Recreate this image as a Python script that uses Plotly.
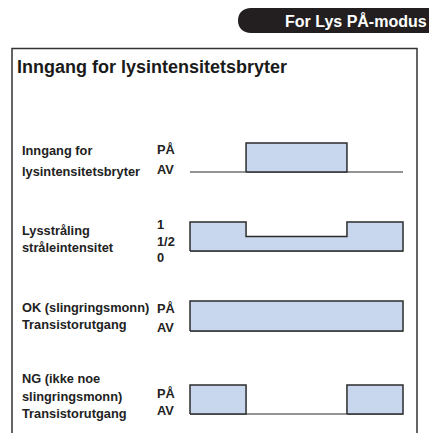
import plotly.graph_objects as go

# ---------------- data ----------------
time_edges = [0, 1, 2.8, 3.8]            # segment boundaries (arbitrary time units)
input_levels = [0, 1, 0]                 # Inngang for lysintensitetsbryter (AV=0, PÅ=1)
intensity_levels = [1, 0.5, 1]           # Lysstråling stråleintensitet (0, 1/2, 1)
ok_levels = [1, 1, 1]                    # OK transistorutgang
ng_levels = [1, 0, 1]                    # NG transistorutgang

row_labels = [
    ["Inngang for", "lysintensitetsbryter"],
    ["Lysstråling", "stråleintensitet"],
    ["OK (slingringsmonn)", "Transistorutgang"],
    ["NG (ikke noe", "slingringsmonn)", "Transistorutgang"],
]
row_ticks = [["PÅ", "AV"], ["1", "1/2", "0"], ["PÅ", "AV"], ["PÅ", "AV"]]
title_text = "Inngang for lysintensitetsbryter"
badge_text = "For Lys PÅ-modus"

# ---------------- layout geometry (pixels) ----------------
W, H = 429, 433
FONT = "Liberation Sans, Arial, Helvetica, sans-serif"
FILL = "#c8d7ee"
EDGE = "#2b2b2b"
BASE = "#707070"

x_left_px, x_right_px = 190, 403
rows_px = [(143, 172), (222, 251), (301, 331), (385, 414)]   # (value 1, value 0)
label_y_px = [[150, 171], [230, 247], [307, 324], [378, 396, 413]]
tick_y_px = [[149, 169], [224, 241, 257], [308, 327], [393, 410]]

levels_all = [input_levels, intensity_levels, ok_levels, ng_levels]

fig = go.Figure()

tpad, vpad = 0.1, 0.15
t0, t1 = time_edges[0], time_edges[-1]
sx = (x_right_px - x_left_px) / (t1 - t0)
xdom = [(x_left_px - tpad * sx) / W, (x_right_px + tpad * sx) / W]

layout_axes = {}
for r, levels in enumerate(levels_all):
    k = r + 2
    xa, ya = f"x{k}", f"y{k}"
    p1, p0 = rows_px[r]
    sy = p0 - p1
    top_px = p1 - vpad * sy
    bot_px = p0 + vpad * sy
    layout_axes[f"xaxis{k}"] = dict(domain=xdom, range=[t0 - tpad, t1 + tpad], visible=False,
                                   anchor=ya, fixedrange=True)
    layout_axes[f"yaxis{k}"] = dict(domain=[1 - bot_px / H, 1 - top_px / H], range=[-vpad, 1 + vpad],
                                   visible=False, anchor=xa, fixedrange=True)

    # baseline at zero
    fig.add_trace(go.Scatter(x=[t0, t1], y=[0, 0], mode="lines", xaxis=xa, yaxis=ya,
                             line=dict(color=BASE, width=1.5), hoverinfo="skip", showlegend=False))
    # filled runs of nonzero levels
    i = 0
    n = len(levels)
    while i < n:
        if levels[i] > 0:
            j = i
            while j + 1 < n and levels[j + 1] > 0:
                j += 1
            xs = [time_edges[i]]
            ys = [0]
            for m in range(i, j + 1):
                xs += [time_edges[m], time_edges[m + 1]]
                ys += [levels[m], levels[m]]
            xs += [time_edges[j + 1], time_edges[i]]
            ys += [0, 0]
            fig.add_trace(go.Scatter(x=xs, y=ys, mode="lines", fill="toself", fillcolor=FILL,
                                     xaxis=xa, yaxis=ya, line=dict(color=EDGE, width=1.5),
                                     hoverinfo="skip", showlegend=False))
            i = j + 1
        else:
            i += 1

annotations = []
# row labels
for r in range(4):
    for txt, yy in zip(row_labels[r], label_y_px[r]):
        annotations.append(dict(x=20, y=yy, xref="x", yref="y", text=f"<b>{txt}</b>",
                                showarrow=False, xanchor="left", yanchor="middle",
                                font=dict(family=FONT, size=12.8, color="#222222")))
    for txt, yy in zip(row_ticks[r], tick_y_px[r]):
        annotations.append(dict(x=155, y=yy, xref="x", yref="y", text=f"<b>{txt}</b>",
                                showarrow=False, xanchor="left", yanchor="middle",
                                font=dict(family=FONT, size=12.8, color="#222222")))

annotations.append(dict(x=15, y=67, xref="x", yref="y", text=f"<b>{title_text}</b>",
                        showarrow=False, xanchor="left", yanchor="middle",
                        font=dict(family=FONT, size=18, color="#1a1a1a")))
annotations.append(dict(x=429, y=21, xref="x", yref="y", text=f"<b>{badge_text}</b>",
                        showarrow=False, xanchor="right", yanchor="middle",
                        font=dict(family=FONT, size=16, color="white")))

shapes = [
    # frame (open at bottom)
    dict(type="path", xref="x", yref="y", path="M 12,440 L 12,48.5 L 417,48.5 L 417,440",
         line=dict(color="#333333", width=1.5), layer="below"),
    # badge
    dict(type="path", xref="x", yref="y",
         path="M 440,8 L 251,8 C 243,8 238,13 238,20.5 C 238,28 243,33 251,33 L 440,33 Z",
         fillcolor="#231f20", line=dict(width=0), layer="below"),
]

fig.update_layout(
    width=W, height=H,
    margin=dict(l=0, r=0, t=0, b=0),
    paper_bgcolor="white", plot_bgcolor="rgba(0,0,0,0)",
    xaxis=dict(domain=[0, 1], range=[0, W], visible=False, fixedrange=True),
    yaxis=dict(domain=[0, 1], range=[H, 0], visible=False, fixedrange=True),
    annotations=annotations, shapes=shapes, showlegend=False,
    **layout_axes,
)

fig.write_html("out.html", config={"displayModeBar": False},
               post_script="document.body.style.margin='0';document.body.style.overflow='hidden';")
